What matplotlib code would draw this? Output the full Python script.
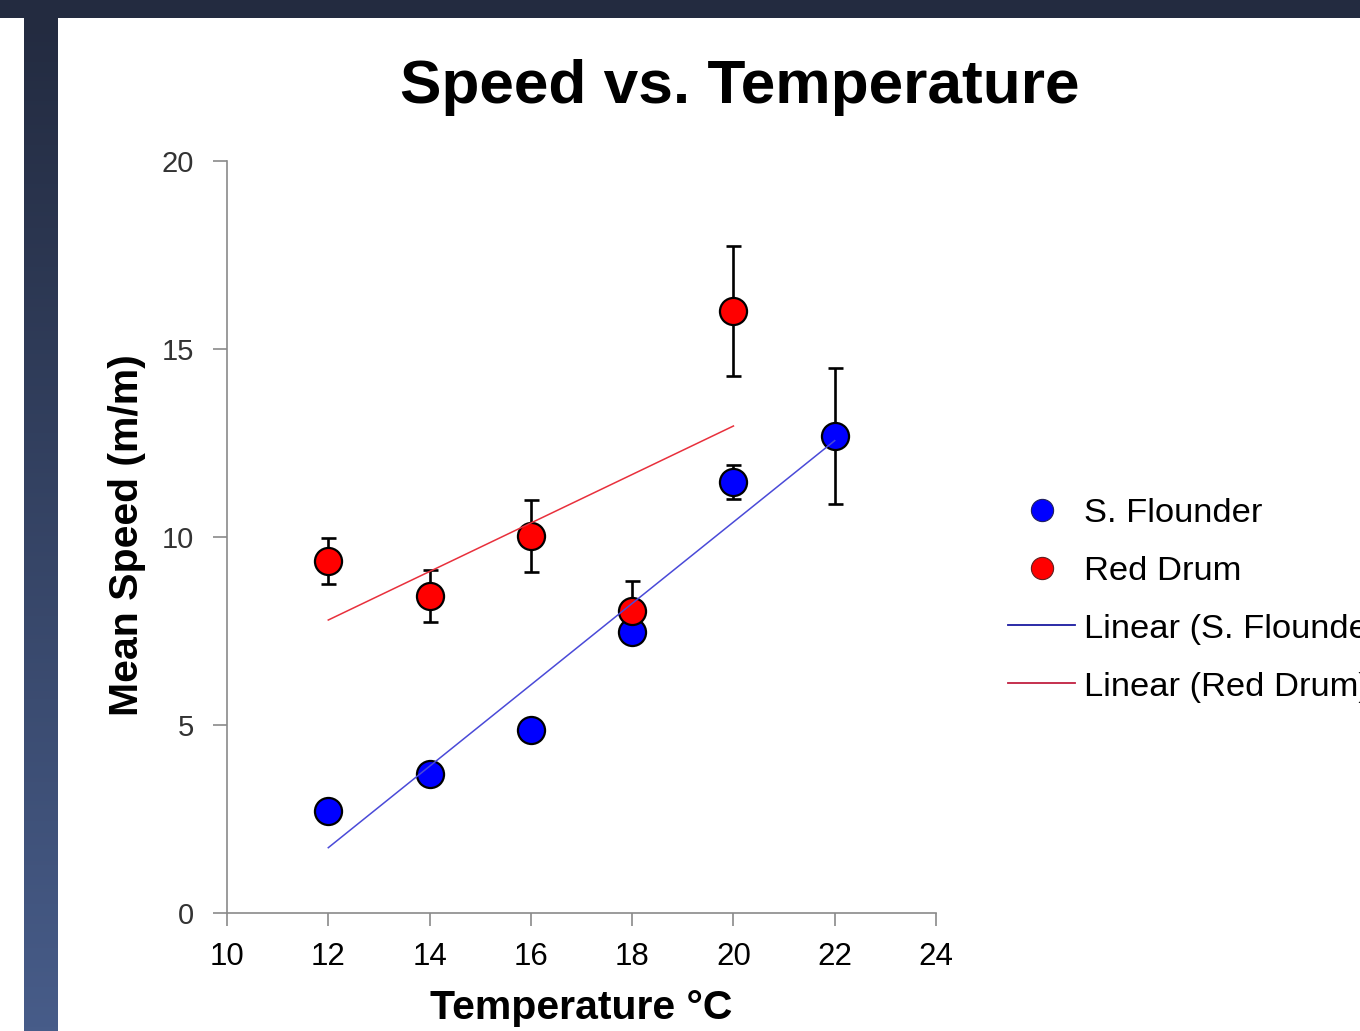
import matplotlib
matplotlib.use("Agg")
import matplotlib.pyplot as plt
import numpy as np
from matplotlib.lines import Line2D
from matplotlib.patches import Rectangle

plt.rcParams['font.family'] = ['Liberation Sans', 'DejaVu Sans']

# data
temps_flounder = [12, 14, 16, 18, 20, 22]
speed_flounder = [2.71, 3.70, 4.87, 7.47, 11.46, 12.69]
err_flounder = [0.2, 0.2, 0.2, 0.2, 0.46, 1.8]

temps_drum = [12, 14, 16, 18, 20]
speed_drum = [9.36, 8.43, 10.03, 8.03, 16.01]
err_drum = [0.62, 0.70, 0.95, 0.80, 1.73]

x_ticks = [10, 12, 14, 16, 18, 20, 22, 24]
y_ticks = [0, 5, 10, 15, 20]

W, H = 1360, 1031
fig = plt.figure(figsize=(W / 100, H / 100), dpi=100)
fig.patch.set_facecolor('white')

# slide frame: dark top bar and a gradient strip on the left
fig.patches.append(Rectangle((0, 1 - 18 / H), 1, 18 / H, transform=fig.transFigure,
                             facecolor='#232b40', edgecolor='none', zorder=0))
strip = fig.add_axes([24 / W, 0, 33 / W, 1 - 18 / H])
top_c = np.array([0x23, 0x2b, 0x40]) / 255
bot_c = np.array([0x47, 0x5c, 0x89]) / 255
t = np.linspace(0, 1, 256)[:, None]
grad = top_c[None, :] * (1 - t) + bot_c[None, :] * t
strip.imshow(grad[:, None, :], aspect='auto', extent=[0, 1, 0, 1])
strip.axis('off')

ax = fig.add_axes([227 / W, 1 - 913 / H, 709 / W, 752 / H])

# error bars under the markers
ax.errorbar(temps_flounder, speed_flounder, yerr=err_flounder, fmt='none',
            ecolor='black', elinewidth=1.9, capsize=5.4, capthick=1.9, zorder=2)
ax.errorbar(temps_drum, speed_drum, yerr=err_drum, fmt='none',
            ecolor='black', elinewidth=1.9, capsize=5.4, capthick=1.9, zorder=2)

ax.plot(temps_flounder, speed_flounder, 'o', ms=19.5, mfc='#0000ff', mec='black',
        mew=1.6, zorder=3)
ax.plot(temps_drum, speed_drum, 'o', ms=19.5, mfc='#ff0000', mec='black',
        mew=1.6, zorder=4)

# linear trend lines
pf = np.polyfit(temps_flounder, speed_flounder, 1)
pd_ = np.polyfit(temps_drum, speed_drum, 1)
xf = np.array([min(temps_flounder), max(temps_flounder)])
xd = np.array([min(temps_drum), max(temps_drum)])
ax.plot(xf, np.polyval(pf, xf), color='#4a4ad8', lw=1.1, zorder=5)
ax.plot(xd, np.polyval(pd_, xd), color='#e8303c', lw=1.1, zorder=5)

ax.set_xlim(10, 24)
ax.set_ylim(0, 20)
ax.set_xticks(x_ticks)
ax.set_yticks(y_ticks)
for s in ['top', 'right']:
    ax.spines[s].set_visible(False)
for s in ['left', 'bottom']:
    ax.spines[s].set_color('#8a8a8a')
    ax.spines[s].set_linewidth(1.2)
ax.tick_params(axis='x', direction='out', length=9, width=1.2, color='#8a8a8a',
               labelsize=22.5, pad=12, labelcolor='black')
ax.tick_params(axis='y', direction='out', length=10, width=1.2, color='#8a8a8a',
               labelsize=21, pad=14, labelcolor='#333333')
ax.set_facecolor('none')

fig.text(740 / W, 1 - 88 / H, 'Speed vs. Temperature', ha='center', va='center',
         fontsize=44.8, fontweight='bold')
fig.text(581 / W, 1 - 1008 / H, 'Temperature °C', ha='center', va='center',
         fontsize=29.5, fontweight='bold')
fig.text(127 / W, 1 - 535 / H, 'Mean Speed (m/m)', ha='center', va='center',
         rotation=90, fontsize=29.5, fontweight='bold')

handles = [
    Line2D([], [], ls='none', marker='o', ms=16, mfc='#0000ff', mec='#202060', mew=0.8),
    Line2D([], [], ls='none', marker='o', ms=16, mfc='#ff0000', mec='#602020', mew=0.8),
    Line2D([], [], color='#1a1aa0', lw=1.3),
    Line2D([], [], color='#c02040', lw=1.3),
]
labels = ['S. Flounder', 'Red Drum', 'Linear (S. Flounder)', 'Linear (Red Drum)']
fig.legend(handles, labels, loc='center left', bbox_to_anchor=(1008 / W, 1 - 600 / H),
           frameon=False, fontsize=24.8, handlelength=1.95, handletextpad=0.26,
           labelspacing=0.78, borderpad=0, borderaxespad=0)

fig.savefig('out.png', dpi=100)
